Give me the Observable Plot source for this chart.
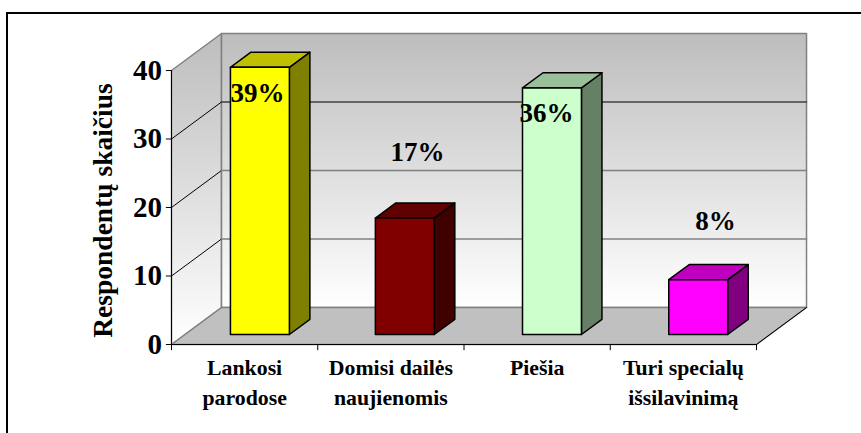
<!DOCTYPE html>
<html><head><meta charset="utf-8">
<script src="https://cdn.jsdelivr.net/npm/d3@7"></script>
<script src="https://cdn.jsdelivr.net/npm/@observablehq/plot@0.6"></script>
<style>html,body{margin:0;padding:0;background:#fff}svg{display:block}</style>
</head><body><div id="chart"></div>
<script>
const categoryLines = [["Lankosi","parodose"],["Domisi dailės","naujienomis"],["Piešia"],["Turi specialų","išsilavinimą"]];
const values = [39, 17, 36, 8];
const percentLabels = ["39%", "17%", "36%", "8%"];
const frontColors = ["#ffff00", "#800000", "#ccffcc", "#ff00ff"];
const topColors = ["#c0c000", "#600000", "#99c099", "#c000c0"];
const sideColors = ["#808000", "#400000", "#668066", "#800080"];
const yTicks = [0, 10, 20, 30, 40];
const labelX = [0.588, 1.682, 2.564, 3.72];
const labelY = [36.6, 28.0, 33.7, 18.0];

// projection of the depth axis, in data units
const depthX = 0.342, depthY = 5.4;
const barLeft = [0.403, 1.394, 2.4, 3.4], barW = 0.403;
const barDepth0 = 0.27, barDepth1 = 0.68;
const px = (x, d) => x + depthX * d, py = (y, d) => y + depthY * d;

const polyMark = (pts, opts) => Plot.line(pts.concat([pts[0]]), {x: "0", y: "1", curve: "linear", ...opts});
const seg = (a, b, opts) => Plot.line([a, b], {x: "0", y: "1", ...opts});

const marks = [];
marks.push(() => {
  const ns = "http://www.w3.org/2000/svg";
  const defs = document.createElementNS(ns, "defs");
  defs.innerHTML = '<linearGradient id="wall" x1="0" y1="0" x2="0" y2="1"><stop offset="0" stop-color="#bdbdbd"/><stop offset="1" stop-color="#ffffff"/></linearGradient>';
  return defs;
});
// walls and floor
marks.push(polyMark([[0,40],[px(0,1),py(40,1)],[px(0,1),py(0,1)],[0,0]], {fill: "url(#wall)", stroke: "#808080", strokeWidth: 1.5}));
marks.push(polyMark([[px(0,1),py(40,1)],[px(4,1),py(40,1)],[px(4,1),py(0,1)],[px(0,1),py(0,1)]], {fill: "url(#wall)", stroke: "#808080", strokeWidth: 1.5}));
marks.push(polyMark([[0,0],[px(0,1),py(0,1)],[px(4,1),py(0,1)],[4,0]], {fill: "#c0c0c0", stroke: "#808080", strokeWidth: 1.5}));
// gridlines
for (const t of [10, 20, 30]) {
  marks.push(seg([0,t],[px(0,1),py(t,1)], {stroke:"#000", strokeWidth:1}));
  marks.push(seg([px(0,1),py(t,1)],[px(4,1),py(t,1)], {stroke: t===30 ? "#404040" : "#808080", strokeWidth:1.5}));
}
marks.push(seg([4,0],[px(4,1),py(0,1)], {stroke:"#000", strokeWidth:1}));
// axes
marks.push(seg([0,0],[0,40], {stroke:"#000", strokeWidth:1}));
marks.push(seg([0,0],[4,0], {stroke:"#000", strokeWidth:1}));
marks.push(Plot.ruleY(yTicks, {y: d => d, x1: -0.035, x2: 0, stroke: "#000"}));
marks.push(Plot.text(yTicks, {y: d => d, x: -0.065, text: d => String(d), textAnchor: "end", fontFamily: "Liberation Serif", fontWeight: "bold", fontSize: 29, fill: "#000"}));
marks.push(Plot.ruleX([0,1,2,3,4], {x: d => d, y1: 0, y2: -0.9, stroke: "#000"}));
// bars
const sw = 1.5;
values.forEach((v, i) => {
  const l = barLeft[i], r = l + barW;
  marks.push(polyMark([[r,py(0,barDepth0)],[px(r,barDepth1-barDepth0),py(0,barDepth1)],[px(r,barDepth1-barDepth0),py(v,barDepth1)],[r,py(v,barDepth0)]], {fill: sideColors[i], stroke:"#000", strokeWidth:sw}));
  marks.push(polyMark([[l,py(v,barDepth0)],[px(l,barDepth1-barDepth0),py(v,barDepth1)],[px(r,barDepth1-barDepth0),py(v,barDepth1)],[r,py(v,barDepth0)]], {fill: topColors[i], stroke:"#000", strokeWidth:sw}));
  marks.push(polyMark([[l,py(0,barDepth0)],[l,py(v,barDepth0)],[r,py(v,barDepth0)],[r,py(0,barDepth0)]], {fill: frontColors[i], stroke:"#000", strokeWidth:sw}));
});
// percent labels
marks.push(Plot.text(percentLabels, {x: (d,i) => labelX[i], y: (d,i) => labelY[i], text: d => d, fontFamily: "Liberation Serif", fontWeight: "bold", fontSize: 27, fill: "#000"}));
// category labels
categoryLines.forEach((lines, i) => {
  marks.push(Plot.text(lines, {x: i + 0.5, y: (d, j) => -3.5 - j * 4.38, text: d => d, fontFamily: "Liberation Serif", fontWeight: "bold", fontSize: 21.8, fill: "#000"}));
});
// y title
marks.push(Plot.text(["Respondentų skaičius"], {x: -0.465, y: 19.56, text: d => d, rotate: -90, fontFamily: "Liberation Serif", fontWeight: "bold", fontSize: 27.5, fill: "#000"}));
// outer frame: only its left and top edges fall inside the picture
marks.push(() => {
  const ns = "http://www.w3.org/2000/svg";
  const r = document.createElementNS(ns, "rect");
  r.setAttribute("x", 7); r.setAttribute("y", 13); r.setAttribute("width", 900); r.setAttribute("height", 500);
  r.setAttribute("fill", "none"); r.setAttribute("stroke", "#000"); r.setAttribute("stroke-width", 2);
  return r;
});

const plot = Plot.plot({
  width: 861, height: 433,
  marginLeft: 171, marginRight: 105, marginTop: 70, marginBottom: 89,
  x: {domain: [0, 4], axis: null},
  y: {domain: [0, 40], axis: null},
  style: {background: "#fff", overflow: "hidden"},
  marks
});
document.getElementById("chart").append(plot);
</script></body></html>
